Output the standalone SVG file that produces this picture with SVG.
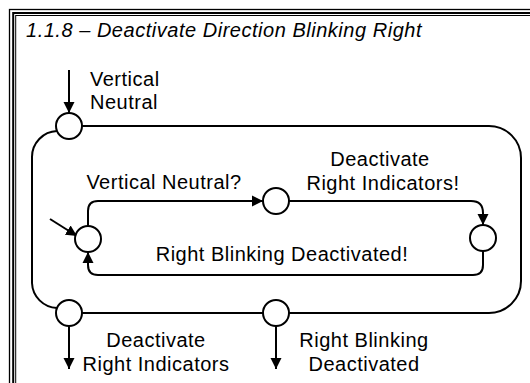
<svg xmlns="http://www.w3.org/2000/svg" width="530" height="383" viewBox="0 0 530 383">
<style>
.ln{fill:none;stroke:#000;stroke-width:2}
.st{fill:#fff;stroke:#000;stroke-width:2}
.t{font-family:"Liberation Sans",Arial,sans-serif;font-size:20px;fill:#000;letter-spacing:0.5px}
.fr{fill:none;stroke:#000}
</style>
<defs>
<marker id="ah" markerUnits="userSpaceOnUse" markerWidth="12" markerHeight="12" refX="11" refY="6" orient="auto">
<path d="M0,0.5 L11,6 L0,11.5 Z" fill="#000"/>
</marker>
</defs>
<g id="frame">
<rect class="fr" x="9.5" y="9.5" width="700" height="700" stroke-width="1.3"/>
<rect class="fr" x="13.2" y="13" width="700" height="700" stroke-width="2"/>
<rect class="fr" x="15.7" y="15.5" width="700" height="700" stroke-width="1"/>
<text class="t" x="26" y="37" font-style="italic" font-size="21" textLength="396" lengthAdjust="spacing">1.1.8 – Deactivate Direction Blinking Right</text>
</g>
<g id="connectors">
<path class="ln" d="M82,126 H489 A32,32 0 0 1 521,158 V281 A32,32 0 0 1 489,313 H289"/>
<path class="ln" d="M263,313 H82"/>
<path class="ln" d="M57,131 A26,26 0 0 0 32,157 V283 A26,26 0 0 0 57,308"/>
<path class="ln" d="M69,70 V113" marker-end="url(#ah)"/>
<path class="ln" d="M69,326 V369" marker-end="url(#ah)"/>
<path class="ln" d="M276,326 V369" marker-end="url(#ah)"/>
<path class="ln" d="M88,226 V211 Q88,201 98,201 H263" marker-end="url(#ah)"/>
<path class="ln" d="M289,201 H471 Q483,201 483,213 V225" marker-end="url(#ah)"/>
<path class="ln" d="M483,251 V265 Q483,275 473,275 H98 Q88,275 88,265 V252" marker-end="url(#ah)"/>
<path class="ln" d="M50,219 L77,236" marker-end="url(#ah)"/>
</g>
<g id="s_top"><circle class="st" cx="69" cy="126" r="13"/></g>
<g id="s_bl"><circle class="st" cx="69" cy="313" r="13"/></g>
<g id="s_bm"><circle class="st" cx="276" cy="313" r="13"/></g>
<g id="s_a"><circle class="st" cx="88" cy="239" r="13"/></g>
<g id="s_b"><circle class="st" cx="276" cy="201" r="13"/></g>
<g id="s_c"><circle class="st" cx="483" cy="238" r="13"/></g>
<g id="labels">
<text class="t" x="90" y="86">Vertical</text>
<text class="t" x="90" y="109">Neutral</text>
<text class="t" x="164" y="189" text-anchor="middle">Vertical Neutral?</text>
<text class="t" x="380" y="166" text-anchor="middle">Deactivate</text>
<text class="t" x="383" y="190" text-anchor="middle">Right Indicators!</text>
<text class="t" x="282" y="261" text-anchor="middle">Right Blinking Deactivated!</text>
<text class="t" x="156" y="347" text-anchor="middle">Deactivate</text>
<text class="t" x="156" y="371" text-anchor="middle">Right Indicators</text>
<text class="t" x="364" y="347" text-anchor="middle">Right Blinking</text>
<text class="t" x="364" y="371" text-anchor="middle">Deactivated</text>
</g>
</svg>
